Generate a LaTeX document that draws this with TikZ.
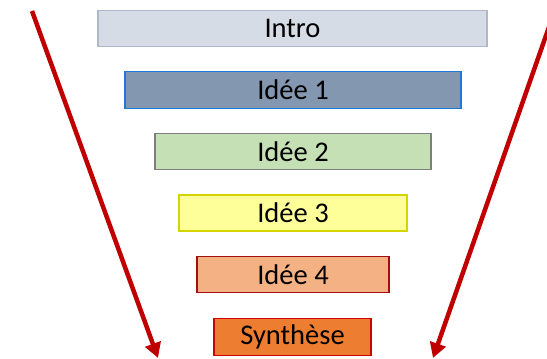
\documentclass[tikz,border=0pt]{standalone}
\usepackage{fontspec}
\setmainfont{Carlito}
\usetikzlibrary{arrows.meta}
\definecolor{introfill}{HTML}{D6DCE5}
\definecolor{introdraw}{HTML}{ADB9CA}
\definecolor{ideeAfill}{HTML}{8497B0}
\definecolor{ideeAdraw}{HTML}{1F78D8}
\definecolor{ideeBfill}{HTML}{C5E0B4}
\definecolor{ideeBdraw}{HTML}{7F7F7F}
\definecolor{ideeCfill}{HTML}{FFFF99}
\definecolor{ideeCdraw}{HTML}{D4D400}
\definecolor{ideeDfill}{HTML}{F4B183}
\definecolor{ideeDdraw}{HTML}{A01010}
\definecolor{synfill}{HTML}{ED7D31}
\definecolor{syndraw}{HTML}{D00000}
\definecolor{arrowred}{HTML}{C00000}
\begin{document}
\begin{tikzpicture}[x=1pt,y=-1pt,
  bar/.style={draw, line width=1.5pt, inner sep=0pt, anchor=center,
    font=\fontsize{28.5}{32}\selectfont, text=black},
  funnel/.style={draw=arrowred, line width=4.5pt,
    -{Triangle[length=15pt,width=16pt]}}]
\useasboundingbox (0,0) rectangle (547,359);
\node[bar, fill=introfill, draw=introdraw, minimum width=389pt, minimum height=36pt] (intro) at (292.5,28.5) {Intro};
\node[bar, fill=ideeAfill, draw=ideeAdraw, minimum width=336pt, minimum height=37pt] (i1) at (293,90) {Idée 1};
\node[bar, fill=ideeBfill, draw=ideeBdraw, minimum width=276pt, minimum height=36pt] (i2) at (293,151.5) {Idée 2};
\node[bar, fill=ideeCfill, draw=ideeCdraw, minimum width=228pt, minimum height=36pt] (i3) at (293,213) {Idée 3};
\node[bar, fill=ideeDfill, draw=ideeDdraw, minimum width=192pt, minimum height=36pt] (i4) at (293,274.5) {Idée 4};
\node[bar, fill=synfill, draw=syndraw, minimum width=157pt, minimum height=37pt] (syn) at (292.5,337) {Synthèse};
\coordinate (la) at (32,11);
\coordinate (lb) at (158,358);
\coordinate (ra) at (549,27);
\coordinate (rb) at (433,358);
\draw[funnel] (la) -- (lb);
\draw[funnel] (ra) -- (rb);
\end{tikzpicture}
\end{document}
